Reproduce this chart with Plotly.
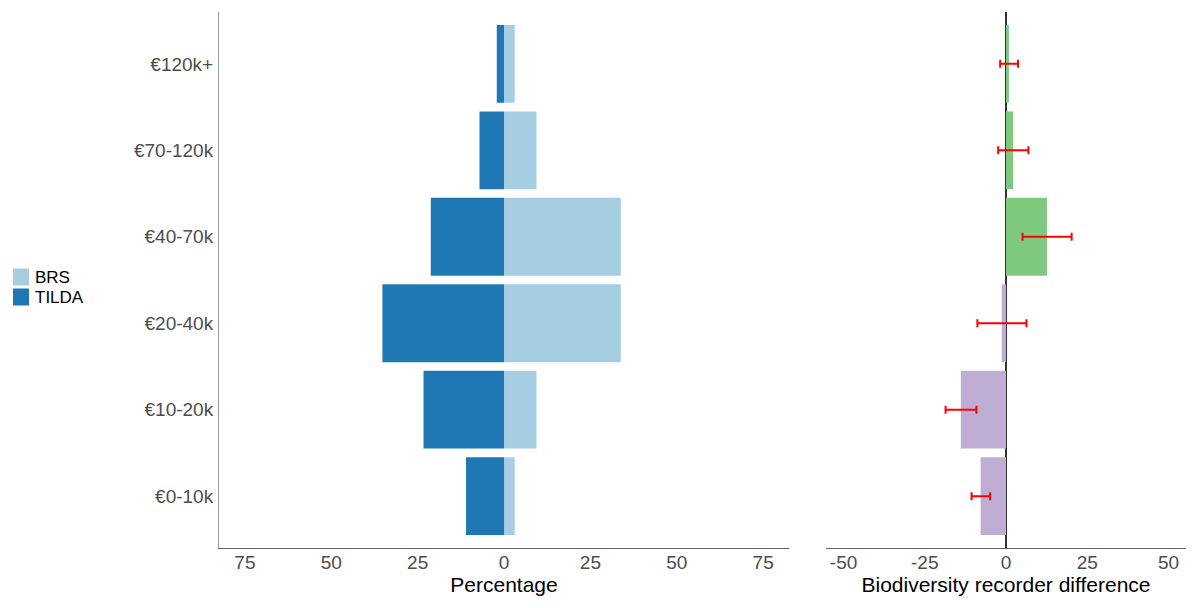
import plotly.graph_objects as go

# Data (bottom to top)
categories = ["€0-10k", "€10-20k", "€20-40k", "€40-70k", "€70-120k", "€120k+"]
brs_pct = [3.1, 9.4, 33.8, 33.8, 9.4, 3.1]
tilda_pct = [11.0, 23.3, 35.2, 21.2, 7.1, 2.1]
diff = [-7.8, -13.9, -1.3, 12.6, 2.2, 0.9]
ci_low = [-10.6, -18.6, -8.8, 5.1, -2.4, -1.8]
ci_high = [-4.9, -9.1, 6.3, 20.2, 6.9, 3.7]

series_names = ["BRS", "TILDA"]

pct_ticks = [-75, -50, -25, 0, 25, 50, 75]
pct_ticktext = ["75", "50", "25", "0", "25", "50", "75"]
diff_ticks = [-50, -25, 0, 25, 50]
diff_ticktext = ["-50", "-25", "0", "25", "50"]

BRS_COL = "#a6cee3"
TILDA_COL = "#1f78b4"
POS_COL = "#7fc97f"
NEG_COL = "#beaed4"

FONT = "Liberation Sans, Arial, sans-serif"

# Figure geometry (page has an 8px body margin)
W, H = 1184, 592
ML, MR, MT, MB = 211, 6, 4, 52
PW = W - ML - MR
PH = H - MT - MB


def px_x(page_x):
    return (page_x - 8 - ML) / PW


def px_y(page_y):
    return (H - MB - (page_y - 8)) / PH


fig = go.Figure()

fig.add_trace(go.Bar(
    y=categories, x=brs_pct, orientation="h", name=series_names[0],
    marker=dict(color=BRS_COL, line=dict(width=0)),
    xaxis="x", yaxis="y", showlegend=False,
))
fig.add_trace(go.Bar(
    y=categories, x=[-v for v in tilda_pct], orientation="h", name=series_names[1],
    customdata=tilda_pct, hovertemplate="%{y}: %{customdata}<extra>TILDA</extra>",
    marker=dict(color=TILDA_COL, line=dict(width=0)),
    xaxis="x", yaxis="y", showlegend=False,
))

diff_cols = [POS_COL if d >= 0 else NEG_COL for d in diff]
fig.add_trace(go.Bar(
    y=categories, x=diff, orientation="h", name="difference",
    marker=dict(color=diff_cols, line=dict(width=0)),
    xaxis="x2", yaxis="y2", showlegend=False,
))
fig.add_trace(go.Scatter(
    y=categories, x=diff, mode="markers",
    marker=dict(size=1, color="rgba(0,0,0,0)"),
    error_x=dict(
        type="data", symmetric=False,
        array=[h - d for h, d in zip(ci_high, diff)],
        arrayminus=[d - l for d, l in zip(diff, ci_low)],
        color="#ff0000", thickness=2, width=4,
    ),
    xaxis="x2", yaxis="y2", showlegend=False, hoverinfo="skip",
))

# Manual legend (keys + labels) to match the compact reference legend
legend_cols = [BRS_COL, TILDA_COL]
key_tops = [268.5, 288.5]
for name, col, top in zip(series_names, legend_cols, key_tops):
    fig.add_shape(
        type="rect", xref="paper", yref="paper",
        x0=px_x(13), x1=px_x(29), y0=px_y(top), y1=px_y(top + 17),
        fillcolor=col, line=dict(width=0), layer="above",
    )
    fig.add_annotation(
        text=name, xref="paper", yref="paper",
        x=px_x(34), y=px_y(top + 9), xanchor="left", yanchor="middle",
        showarrow=False, font=dict(family=FONT, size=17, color="black"),
        borderpad=0,
    )

fig.update_layout(
    width=W, height=H,
    margin=dict(l=ML, r=MR, t=MT, b=MB, pad=0),
    paper_bgcolor="white", plot_bgcolor="white",
    barmode="overlay", bargap=0.1,
    font=dict(family=FONT, size=19, color="#4d4d4d"),
    showlegend=False,
    xaxis=dict(
        domain=[0, 0.5895], range=[-82.5, 82.5],
        tickvals=pct_ticks, ticktext=pct_ticktext,
        showgrid=False, zeroline=False,
        showline=True, linecolor="#666666", linewidth=1,
        ticks="", ticklabelstandoff=-3,
        tickfont=dict(size=19, color="#4d4d4d"),
        title=dict(text="Percentage", font=dict(size=21, color="black"), standoff=1),
        automargin=False, fixedrange=True,
    ),
    yaxis=dict(
        domain=[0, 1], type="category", range=[-0.6, 5.6],
        categoryorder="array", categoryarray=categories,
        showgrid=False, zeroline=False,
        showline=True, linecolor="#999999", linewidth=1,
        ticks="", ticklabelstandoff=1,
        tickfont=dict(size=19, color="#4d4d4d"),
        automargin=False, fixedrange=True,
    ),
    xaxis2=dict(
        domain=[0.6277, 1], range=[-55.4, 55.4], anchor="y2",
        tickvals=diff_ticks, ticktext=diff_ticktext,
        showgrid=False,
        zeroline=True, zerolinecolor="#333333", zerolinewidth=2,
        showline=True, linecolor="#666666", linewidth=1,
        ticks="", ticklabelstandoff=-3,
        tickfont=dict(size=19, color="#4d4d4d"),
        title=dict(text="Biodiversity recorder difference", font=dict(size=21, color="black"), standoff=1),
        automargin=False, fixedrange=True,
    ),
    yaxis2=dict(
        domain=[0, 1], type="category", range=[-0.6, 5.6], anchor="x2",
        categoryorder="array", categoryarray=categories,
        showgrid=False, zeroline=False, showline=False,
        showticklabels=False, ticks="",
        automargin=False, fixedrange=True,
    ),
)

fig.write_html("out.html")
